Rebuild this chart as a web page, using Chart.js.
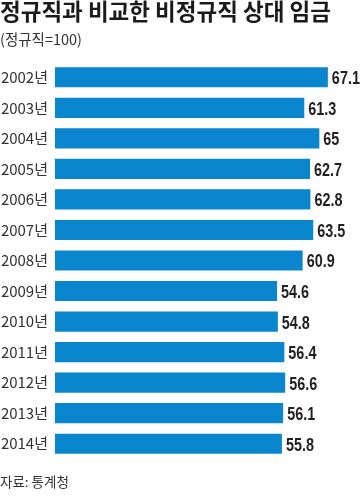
<!DOCTYPE html>
<html>
<head>
<meta charset="utf-8">
<script src="https://cdn.jsdelivr.net/npm/chart.js@4"></script>
<style>
    html, body { margin: 0; padding: 0; background: #fff; }
    #wrap { position: relative; width: 360px; height: 502px; overflow: hidden; }
    #chart { position: absolute; left: 0; top: 0; }
    .txt { position: absolute; left: 0; white-space: nowrap; font-family: "Noto Sans CJK KR", sans-serif; }
    #title { top: -1px; font-size: 22.5px; line-height: 22px; font-weight: bold; color: #1a1a1a; }
    #sub { top: 31px; font-size: 14.5px; line-height: 15px; color: #333; }
    #src { top: 474px; font-size: 13.5px; line-height: 14px; color: #333; }
</style>
</head>
<body>
<div id="wrap">
    <canvas id="chart" width="360" height="502"></canvas>
    <div class="txt" id="title">정규직과 비교한 비정규직 상대 임금</div>
    <div class="txt" id="sub">(정규직=100)</div>
    <div class="txt" id="src">자료: 통계청</div>
</div>
<script>
var years = ["2002년", "2003년", "2004년", "2005년", "2006년", "2007년", "2008년",
    "2009년", "2010년", "2011년", "2012년", "2013년", "2014년"];
var wages = [67.1, 61.3, 65, 62.7, 62.8, 63.5, 60.9, 54.6, 54.8, 56.4, 56.6, 56.1, 55.8];
var axisMax = 75;

var barColor = "#0a86cf";

// value labels right of each bar, squeezed to look condensed
var valueLabels = {
    id: "valueLabels",
    afterDatasetsDraw: function(chart) {
        var ctx = chart.ctx,
            meta = chart.getDatasetMeta(0),
            squeeze = 0.8;

        ctx.save();
        ctx.font = "bold 18px 'Liberation Sans', Arial, sans-serif";
        ctx.fillStyle = "#231f20";
        ctx.textAlign = "left";
        ctx.textBaseline = "middle";
        meta.data.forEach(function(bar, i) {
            ctx.save();
            ctx.translate(bar.x + 4, bar.y + 2);
            ctx.scale(squeeze, 1);
            ctx.fillText(String(wages[i]), 0, 0);
            ctx.restore();
        });
        ctx.restore();
    }
};

new Chart("chart", {
    type: "bar",
    data: {
        labels: years,
        datasets: [{
            data: wages,
            backgroundColor: barColor,
            borderWidth: 0,
            categoryPercentage: 1,
            barPercentage: 0.66
        }]
    },
    options: {
        indexAxis: "y",
        responsive: false,
        animation: false,
        layout: {
            padding: { top: 62, bottom: 43, left: 0, right: 0 }
        },
        plugins: {
            legend: { display: false },
            tooltip: { enabled: false }
        },
        scales: {
            x: {
                display: false,
                min: 0,
                max: axisMax
            },
            y: {
                grid: { display: false, drawTicks: false },
                border: { display: false },
                ticks: {
                    padding: 7,
                    color: "#333",
                    font: { family: "'Noto Sans CJK KR', sans-serif", size: 15 }
                },
                afterFit: function(axis) {
                    axis.width = 55;
                }
            }
        }
    },
    plugins: [valueLabels]
});
</script>
</body>
</html>
